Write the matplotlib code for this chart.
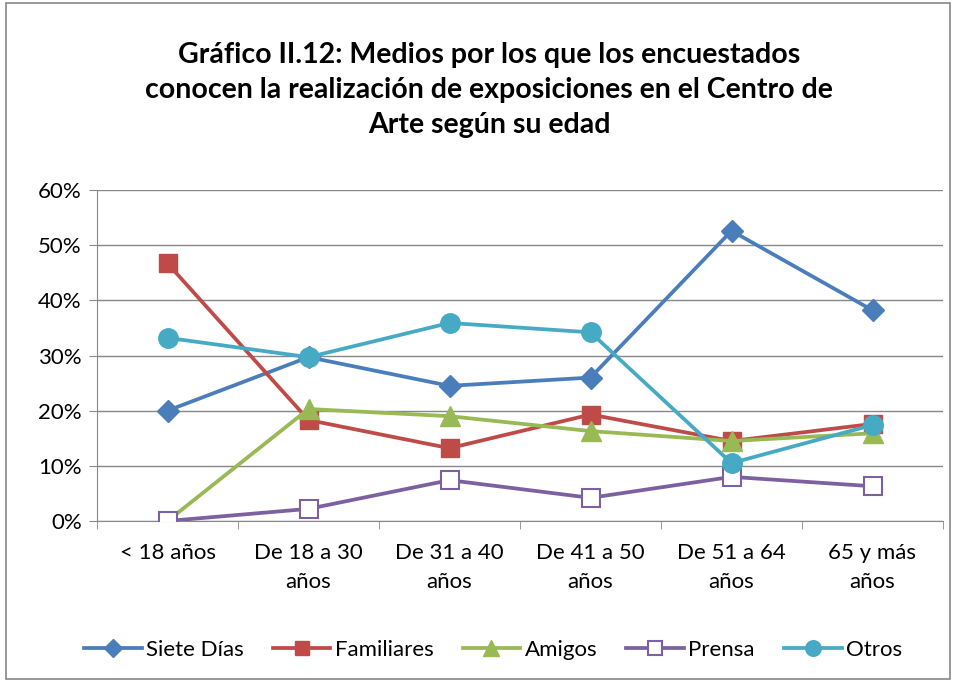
import matplotlib
matplotlib.use("Agg")
import matplotlib.pyplot as plt
from matplotlib.patches import Rectangle
from matplotlib.ticker import FixedLocator, PercentFormatter

# Data
categories = ["< 18 años", "De 18 a 30\naños", "De 31 a 40\naños", "De 41 a 50\naños",
              "De 51 a 64\naños", "65 y más\naños"]
siete_dias = [20.0, 29.7, 24.5, 26.0, 52.6, 38.2]
familiares = [46.7, 18.3, 13.2, 19.3, 14.5, 17.6]
amigos = [0.0, 20.3, 19.0, 16.3, 14.5, 15.9]
prensa = [0.0, 2.2, 7.4, 4.2, 8.0, 6.3]
otros = [33.2, 29.7, 35.9, 34.2, 10.5, 17.4]
y_ticks = [0, 10, 20, 30, 40, 50, 60]

plt.rcParams['font.family'] = ['Lato', 'DejaVu Sans']

fig = plt.figure(figsize=(9.57, 6.83), dpi=100)
ax = fig.add_axes([97 / 957, 1 - 521 / 683, 846 / 957, 331 / 683])

# outer chart border
fig.patches.append(Rectangle((6 / 957, 4 / 683), 944 / 957, 676 / 683, transform=fig.transFigure,
                             fill=False, edgecolor='#888888', linewidth=1.2))

x = list(range(len(categories)))
ax.plot(x, siete_dias, color='#4a7ebb', lw=2.7, marker='D', ms=11, label='Siete Días', zorder=3)
ax.plot(x, familiares, color='#be4b48', lw=2.7, marker='s', ms=13, label='Familiares', zorder=3)
ax.plot(x, amigos, color='#98b954', lw=2.7, marker='^', ms=14, label='Amigos', zorder=3)
ax.plot(x, prensa, color='#7d60a0', lw=2.7, marker='s', ms=13, mfc='white', mew=1.5,
        label='Prensa', zorder=3)
ax.plot(x, otros, color='#46aac5', lw=2.7, marker='o', ms=14, label='Otros', zorder=3)

ax.set_xlim(-0.5, len(categories) - 0.5)
ax.set_ylim(0, 60)
ax.set_yticks(y_ticks)
ax.yaxis.set_major_formatter(PercentFormatter(decimals=0))
ax.set_xticks(x)
ax.set_xticklabels(categories, fontsize=16, linespacing=1.55)
ax.xaxis.set_minor_locator(FixedLocator([i - 0.5 for i in range(len(categories) + 1)]))
ax.tick_params(axis='x', which='major', length=0, pad=16)
ax.tick_params(axis='x', which='minor', length=6, color='#888888')
ax.tick_params(axis='y', labelsize=16, length=6, color='#888888', pad=5)
ax.grid(axis='y', color='#888888', lw=1)
for side in ['top', 'right']:
    ax.spines[side].set_visible(False)
for side in ['left', 'bottom']:
    ax.spines[side].set_color('#888888')

fig.text(489 / 957, 1 - 90 / 683,
         "Gráfico II.12: Medios por los que los encuestados\n"
         "conocen la realización de exposiciones en el Centro de\n"
         "Arte según su edad",
         ha='center', va='center', fontsize=20.5, fontweight='bold', linespacing=1.45)

fig.legend(loc='center', bbox_to_anchor=(493 / 957, 1 - 650 / 683), ncol=5, frameon=False,
           fontsize=16, handlelength=2.6, columnspacing=1.3, handletextpad=0.2, markerscale=0.8)

fig.savefig("out.png", dpi=100)
